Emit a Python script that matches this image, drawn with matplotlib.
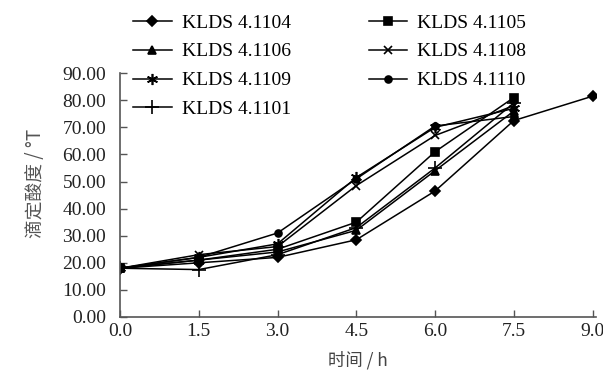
import matplotlib.pyplot as plt
import numpy as np

# data
hours = [0.0, 1.5, 3.0, 4.5, 6.0, 7.5, 9.0]
tick_labels = ['0.0', '1.5', '3.0', '4.5', '6.0', '7.5', '9.0']
y_ticks = [0, 10, 20, 30, 40, 50, 60, 70, 80, 90]

kl_1104 = [18.0, 20.0, 22.0, 28.5, 46.5, 72.5, 81.5]
kl_1105 = [18.0, 21.0, 25.0, 35.0, 61.0, 81.0]
kl_1106 = [18.0, 21.0, 24.0, 32.0, 54.0, 76.0]
kl_1108 = [18.0, 23.0, 26.0, 48.5, 67.0, 78.0]
kl_1109 = [18.0, 22.0, 27.0, 51.5, 70.0, 77.0]
kl_1110 = [18.0, 22.0, 31.0, 51.0, 70.5, 74.0]
kl_1101 = [18.0, 17.5, 23.0, 33.0, 55.0, 79.0]

series = [
    ('KLDS 4.1104', kl_1104, 'D', 5.5),
    ('KLDS 4.1106', kl_1106, '^', 6),
    ('KLDS 4.1109', kl_1109, (6, 2, 0), 8),
    ('KLDS 4.1101', kl_1101, '+', 10),
    ('KLDS 4.1105', kl_1105, 's', 6),
    ('KLDS 4.1108', kl_1108, 'x', 6),
    ('KLDS 4.1110', kl_1110, 'o', 5),
]

plt.rcParams['font.family'] = ['Liberation Serif', 'Noto Sans CJK SC']

fig = plt.figure(figsize=(6.03, 3.81), dpi=100)
ax = fig.add_axes([0.199, 0.168, 0.789, 0.640])

handles = []
for name, vals, mk, ms in series:
    h, = ax.plot(hours[:len(vals)], vals, color='black', linewidth=1.1,
                 marker=mk, markersize=ms, markeredgewidth=1.2,
                 markerfacecolor='black', markeredgecolor='black', label=name)
    handles.append(h)

ax.set_xlim(0, 9.06)
ax.set_ylim(0, 90)
ax.set_xticks(hours)
ax.set_xticklabels(tick_labels)
ax.set_yticks(y_ticks)
ax.set_yticklabels(['%.2f' % v for v in y_ticks])
ax.tick_params(axis='both', direction='in', length=5, width=1, color='#555555',
               labelsize=14, colors='#222222')
ax.tick_params(axis='x', pad=4)
ax.tick_params(axis='y', pad=10)

for side in ['top', 'right']:
    ax.spines[side].set_visible(False)
for side in ['left', 'bottom']:
    ax.spines[side].set_color('#555555')
    ax.spines[side].set_linewidth(1.2)

ax.set_xlabel('时间 / h', family=['Noto Sans CJK SC'], fontsize=12.5,
              color='#444444', labelpad=8)
ax.set_ylabel('滴定酸度 / °T', family=['Noto Sans CJK SC', 'DejaVu Sans'],
              fontsize=13.5, color='#555555')
ax.yaxis.set_label_coords(-0.155, 0.55)

fig.legend(handles=handles, loc='upper left', ncol=2,
           bbox_to_anchor=(133 / 603, 1 - 14 / 381), frameon=False,
           fontsize=14, handlelength=2.0, handletextpad=0.5,
           labelspacing=0.58, columnspacing=4.0, borderpad=0, borderaxespad=0)

fig.savefig('out.png', dpi=100)
